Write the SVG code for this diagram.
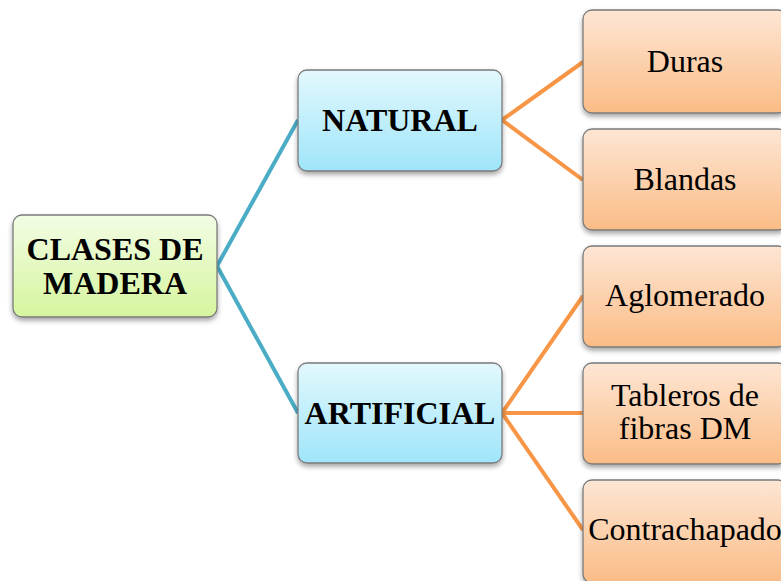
<svg xmlns="http://www.w3.org/2000/svg" width="781" height="581" viewBox="0 0 781 581">
<defs>
<linearGradient id="gGreen" x1="0" y1="0" x2="0" y2="1"><stop offset="0" stop-color="#f2fde4"/><stop offset="1" stop-color="#d6f59e"/></linearGradient>
<linearGradient id="gBlue" x1="0" y1="0" x2="0" y2="1"><stop offset="0" stop-color="#e2f8fd"/><stop offset="1" stop-color="#9fe5fa"/></linearGradient>
<linearGradient id="gOrange" x1="0" y1="0" x2="0" y2="1"><stop offset="0" stop-color="#fde6d4"/><stop offset="1" stop-color="#fbbc86"/></linearGradient>
<filter id="sh" x="-10%" y="-10%" width="120%" height="130%"><feDropShadow dx="0" dy="3" stdDeviation="2.5" flood-color="#000" flood-opacity="0.35"/></filter>
</defs>
<style>
.box{stroke:#7a7a7a;stroke-width:1.3;filter:url(#sh)}
.root{fill:url(#gGreen)}
.mid{fill:url(#gBlue)}
.leaf{fill:url(#gOrange)}
text{font-family:"Liberation Serif","Times New Roman",serif;fill:#000;text-anchor:middle}
.tb{font-weight:bold;font-size:32px}
.tr{font-size:32px}
.cb{stroke:#4bacc6;stroke-width:4;fill:none}
.co{stroke:#f79646;stroke-width:4;fill:none}
</style>
<rect width="781" height="581" fill="#fff"/>
<g id="connectors">
<path class="cb" d="M217,266 L298,120 M217,266 L298,413"/>
<path class="co" d="M502,120 L583,62 M502,120 L583,180"/>
<path class="co" d="M502,413 L583,296 M502,413 L583,413 M502,413 L583,530"/>
</g>
<g id="root">
<rect class="box root" x="13" y="215" width="204" height="102" rx="9"/>
<text class="tb"><tspan x="115" y="260">CLASES DE</tspan><tspan x="115" y="294">MADERA</tspan></text>
</g>
<g id="natural">
<rect class="box mid" x="298" y="70" width="204" height="101" rx="9"/>
<text class="tb" x="400" y="131">NATURAL</text>
</g>
<g id="artificial">
<rect class="box mid" x="298" y="363" width="204" height="100" rx="9"/>
<text class="tb" x="400" y="424">ARTIFICIAL</text>
</g>
<g id="duras">
<rect class="box leaf" x="583" y="10" width="204" height="103" rx="9"/>
<text class="tr" x="685" y="72">Duras</text>
</g>
<g id="blandas">
<rect class="box leaf" x="583" y="129" width="204" height="101" rx="9"/>
<text class="tr" x="685" y="190">Blandas</text>
</g>
<g id="aglomerado">
<rect class="box leaf" x="583" y="246" width="204" height="101" rx="9"/>
<text class="tr" x="685" y="306">Aglomerado</text>
</g>
<g id="tableros">
<rect class="box leaf" x="583" y="363" width="204" height="101" rx="9"/>
<text class="tr"><tspan x="685" y="406">Tableros de</tspan><tspan x="685" y="439">fibras DM</tspan></text>
</g>
<g id="contrachapado">
<rect class="box leaf" x="583" y="480" width="204" height="103" rx="9"/>
<text class="tr" x="685" y="540">Contrachapado</text>
</g>
</svg>
